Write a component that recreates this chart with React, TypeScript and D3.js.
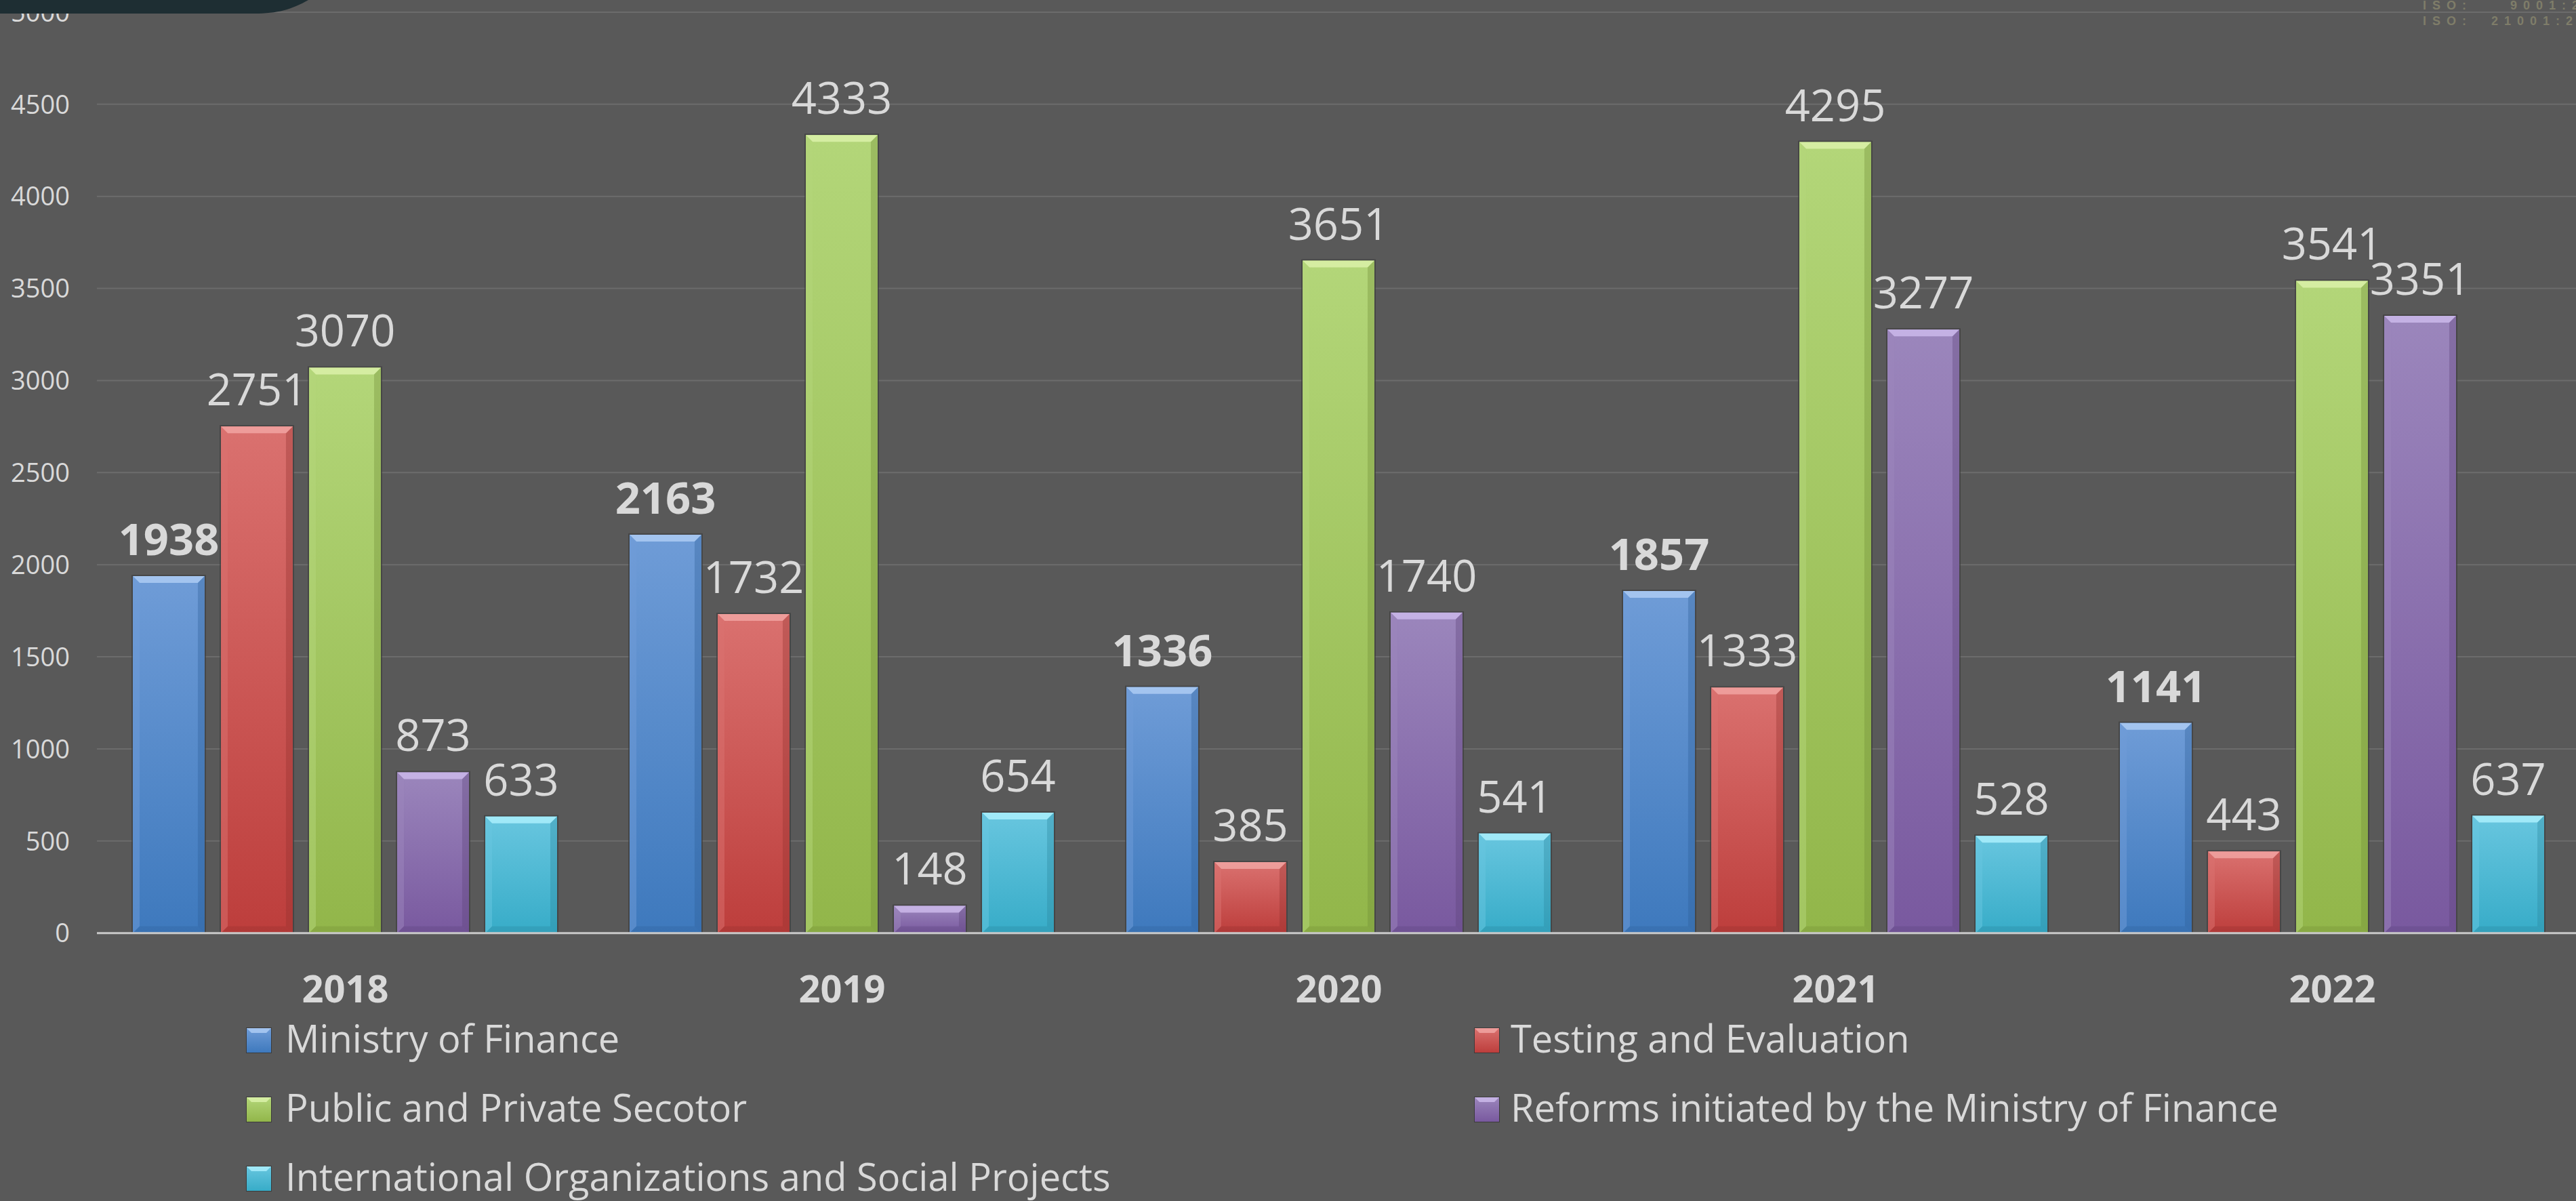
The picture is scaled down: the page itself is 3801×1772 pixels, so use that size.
import React, { useEffect } from "react";
import * as d3 from "d3";

const years = ["2018", "2019", "2020", "2021", "2022"];
const seriesNames = [
  "Ministry of Finance",
  "Testing and Evaluation",
  "Public and Private Secotor",
  "Reforms initiated by the Ministry of Finance",
  "International Organizations and Social Projects",
];
const ministryOfFinance = [1938, 2163, 1336, 1857, 1141];
const testingEvaluation = [2751, 1732, 385, 1333, 443];
const publicPrivate = [3070, 4333, 3651, 4295, 3541];
const reforms = [873, 148, 1740, 3277, 3351];
const international = [633, 654, 541, 528, 637];
const seriesValues = [ministryOfFinance, testingEvaluation, publicPrivate, reforms, international];
const yTicks = [0, 500, 1000, 1500, 2000, 2500, 3000, 3500, 4000, 4500, 5000];

const palette = [
  { top: "#6f9cd7", bottom: "#3e79bd", bevel: "#a9c9f2", dark: "#2f5f98" },
  { top: "#da716f", bottom: "#bd3e3c", bevel: "#f0a19f", dark: "#93302e" },
  { top: "#b3d679", bottom: "#92b64a", bevel: "#d8f0a6", dark: "#6f8c36" },
  { top: "#9b86bc", bottom: "#79599f", bevel: "#c9b6e8", dark: "#5b4279" },
  { top: "#68c6df", bottom: "#37acc8", bevel: "#a6ecfb", dark: "#2a869d" },
];

const W = 3801;
const H = 1772;
const FONT = "'Open Sans', 'Noto Sans', sans-serif";

export default function App() {
  useEffect(() => {
    document.body.style.margin = "0";
    document.body.style.background = "#595959";
  }, []);

  const x0 = d3.scaleBand<string>().domain(years).range([143, 143 + 5 * 733]).padding(0);
  const x1 = d3
    .scaleBand<number>()
    .domain(d3.range(seriesNames.length))
    .range([53, 679])
    .paddingInner(0.185);
  const y = d3.scaleLinear().domain([0, 5000]).range([1376.7, 18]);
  const bw = x1.bandwidth();
  const bev = 10;

  const legendPos = [
    { sx: 364, tx: 421, cy: 1535 },
    { sx: 2176, tx: 2229, cy: 1535 },
    { sx: 364, tx: 421, cy: 1637 },
    { sx: 2176, tx: 2229, cy: 1637 },
    { sx: 364, tx: 421, cy: 1739 },
  ];

  return (
    <svg
      width={W}
      height={H}
      style={{ display: "block", position: "absolute", left: 0, top: 0 }}
      fontFamily={FONT}
    >
      <defs>
        {palette.map((p, i) => (
          <linearGradient key={i} id={`g${i}`} x1="0" y1="0" x2="0" y2="1">
            <stop offset="0" stopColor={p.top} />
            <stop offset="1" stopColor={p.bottom} />
          </linearGradient>
        ))}
      </defs>
      <rect x={0} y={0} width={W} height={H} fill="#595959" />

      {/* gridlines */}
      {yTicks.map((t) =>
        t === 0 ? null : (
          <line key={t} x1={143} x2={W} y1={y(t)} y2={y(t)} stroke="#6c6c6c" strokeWidth={2} />
        )
      )}

      {/* y tick labels */}
      {yTicks.map((t) => (
        <text
          key={"yl" + t}
          x={103}
          y={y(t)}
          dy="0.36em"
          textAnchor="end"
          fontSize={38}
          fill="#d9d9d9"
        >
          {t}
        </text>
      ))}

      {/* bars */}
      {years.map((yr, gi) => (
        <g key={yr} transform={`translate(${x0(yr)},0)`}>
          {seriesValues.map((vals, si) => {
            const v = vals[gi];
            const bx = x1(si) as number;
            const by = y(v);
            const bh = y(0) - by;
            const p = palette[si];
            const b = Math.min(bev, bh / 2);
            return (
              <g key={si}>
                <rect x={bx - 2} y={by - 2} width={bw + 4} height={bh + 2} fill="#3e3e3e" opacity={0.7} />
                <rect x={bx} y={by} width={bw} height={bh} fill={`url(#g${si})`} />
                <polygon
                  points={`${bx},${by} ${bx + bw},${by} ${bx + bw - b},${by + b} ${bx + b},${by + b}`}
                  fill={p.bevel}
                  opacity={0.9}
                />
                <polygon
                  points={`${bx},${by} ${bx + b},${by + b} ${bx + b},${by + bh - b} ${bx},${by + bh}`}
                  fill={p.top}
                  opacity={0.5}
                />
                <polygon
                  points={`${bx + bw},${by} ${bx + bw - b},${by + b} ${bx + bw - b},${by + bh - b} ${bx + bw},${by + bh}`}
                  fill={p.dark}
                  opacity={0.35}
                />
                <polygon
                  points={`${bx},${by + bh} ${bx + b},${by + bh - b} ${bx + bw - b},${by + bh - b} ${bx + bw},${by + bh}`}
                  fill={p.dark}
                  opacity={0.3}
                />
              </g>
            );
          })}
        </g>
      ))}

      {/* x axis line */}
      <line x1={143} x2={W} y1={y(0)} y2={y(0)} stroke="#c9c9c9" strokeWidth={3} />

      {/* data labels */}
      {years.map((yr, gi) =>
        seriesValues.map((vals, si) => {
          const v = vals[gi];
          const cx = (x0(yr) as number) + (x1(si) as number) + bw / 2;
          return (
            <text
              key={yr + si}
              x={cx}
              y={y(v) - 31}
              textAnchor="middle"
              fontSize={65}
              fontWeight={si === 0 ? 700 : 400}
              fill="#d9d9d9"
            >
              {v}
            </text>
          );
        })
      )}

      {/* category labels */}
      {years.map((yr) => (
        <text
          key={"c" + yr}
          x={(x0(yr) as number) + x0.bandwidth() / 2}
          y={1479}
          textAnchor="middle"
          fontSize={56}
          fontWeight={700}
          fill="#d9d9d9"
        >
          {yr}
        </text>
      ))}

      {/* legend */}
      {seriesNames.map((name, i) => {
        const lp = legendPos[i];
        const p = palette[i];
        const s = 36;
        const sx = lp.sx;
        const sy = lp.cy - 18;
        return (
          <g key={"lg" + i}>
            <rect x={sx - 1} y={sy - 1} width={s + 2} height={s + 2} fill="#333" opacity={0.8} />
            <rect x={sx} y={sy} width={s} height={s} fill={`url(#g${i})`} />
            <polygon
              points={`${sx},${sy} ${sx + s},${sy} ${sx + s - 7},${sy + 7} ${sx + 7},${sy + 7}`}
              fill={p.bevel}
              opacity={0.9}
            />
            <text x={lp.tx} y={lp.cy + 18} fontSize={56} fill="#d9d9d9">
              {name}
            </text>
          </g>
        );
      })}

      {/* top-left dark shape */}
      <path d="M0,0 H455 C430,14 410,20 375,20 H0 Z" fill="#1e2e33" />

      {/* ISO text top right */}
      <text x={3575} y={14} fontFamily="'Liberation Sans', Arial, sans-serif" fontWeight={700} fontSize={18} letterSpacing={9} fill="#7f7d69" xmlSpace="preserve">
        {"ISO:    9001:201"}
      </text>
      <text x={3575} y={37} fontFamily="'Liberation Sans', Arial, sans-serif" fontWeight={700} fontSize={18} letterSpacing={9} fill="#7f7d69" xmlSpace="preserve">
        {"ISO:  21001:201"}
      </text>
    </svg>
  );
}
